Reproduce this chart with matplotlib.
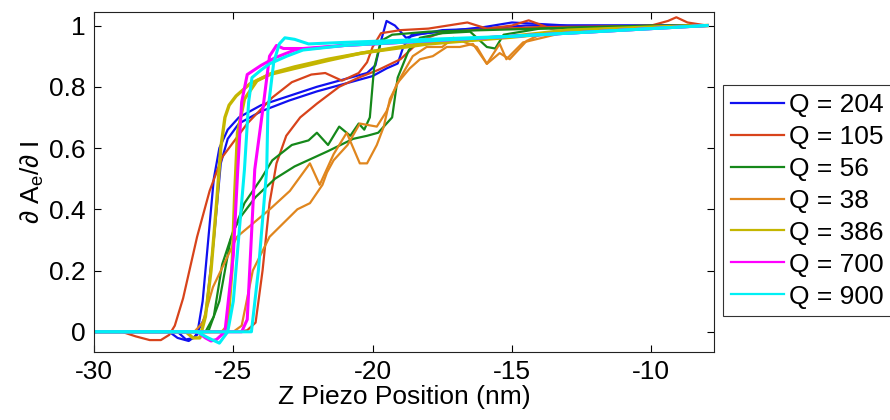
import numpy as np
import matplotlib
matplotlib.use('Agg')
import matplotlib.pyplot as plt

plt.rcParams['font.family'] = ['Liberation Sans', 'DejaVu Sans']
plt.rcParams['mathtext.fontset'] = 'custom'
plt.rcParams['mathtext.rm'] = 'Liberation Sans'

# legend labels
labels = ['Q = 204', 'Q = 105', 'Q = 56', 'Q = 38', 'Q = 386', 'Q = 700', 'Q = 900']
colors = ['#1010F0', '#D8431B', '#15881A', '#E0861E', '#C4B600', '#FF00FF', '#00F0F5']

# each Q has two branches (x, y)
blue_a_x = [-30, -27.3, -27.0, -26.6, -26.3, -26.1, -25.9, -25.7, -25.5, -25.2, -24.8, -24.0, -23.0, -22.0, -21.0, -20.2, -19.9, -19.7, -19.5, -19.2, -18.8, -18.4, -17.5, -16, -14.5, -13, -10, -8]
blue_a_y = [0, 0, -0.02, -0.03, -0.01, 0.1, 0.3, 0.5, 0.6, 0.66, 0.70, 0.74, 0.77, 0.80, 0.825, 0.845, 0.87, 0.95, 1.015, 1.0, 0.96, 0.97, 0.985, 0.99, 1.0, 1.0, 1.0, 1.0]
blue_b_x = [-30, -27.0, -26.7, -26.4, -26.0, -25.7, -25.45, -25.2, -24.8, -24.0, -23.0, -22.0, -21.0, -20.0, -19.5, -19.1, -18.9, -18.6, -17.5, -16, -15, -13, -10, -8]
blue_b_y = [0, 0, -0.025, -0.02, 0.05, 0.3, 0.55, 0.63, 0.68, 0.72, 0.755, 0.785, 0.81, 0.835, 0.86, 0.876, 0.93, 0.97, 0.98, 0.995, 1.01, 1.0, 1.0, 1.0]

red_a_x = [-30, -29.0, -28.5, -28.0, -27.6, -27.3, -27.1, -26.8, -26.3, -25.85, -25.4, -24.5, -23.6, -22.9, -22.2, -21.7, -21.1, -20.5, -20.2, -20.0, -19.7, -19.0, -18.0, -16.6, -15.9, -15.0, -14.4, -13.6, -12, -10, -9.4, -9.1, -8.7, -8]
red_a_y = [0, 0, -0.015, -0.027, -0.027, -0.01, 0.02, 0.11, 0.31, 0.46, 0.57, 0.68, 0.765, 0.815, 0.84, 0.845, 0.82, 0.845, 0.88, 0.93, 0.975, 0.985, 0.99, 1.01, 0.99, 1.0, 1.017, 0.99, 0.995, 1.0, 1.015, 1.027, 1.01, 1.0]
red_b_x = [-30, -24.8, -24.5, -24.2, -23.95, -23.7, -23.45, -23.1, -22.6, -22.0, -21.2, -20.5, -19.8, -19.0, -18.3, -17.6, -16.5, -14, -8]
red_b_y = [0, 0, 0.005, 0.03, 0.2, 0.42, 0.55, 0.64, 0.70, 0.745, 0.80, 0.83, 0.855, 0.89, 0.95, 0.975, 0.985, 0.995, 1.0]

green_a_x = [-30, -26.0, -25.7, -25.4, -25.0, -24.7, -24.2, -23.5, -22.8, -21.6, -20.7, -20.2, -19.8, -19.6, -19.3, -19.1, -18.7, -18.3, -17.5, -16.5, -15.9, -15.6, -15.3, -14, -10, -8]
green_a_y = [0, 0, 0.05, 0.22, 0.33, 0.38, 0.44, 0.50, 0.54, 0.59, 0.63, 0.64, 0.65, 0.67, 0.70, 0.83, 0.92, 0.96, 0.975, 0.98, 0.93, 0.925, 0.97, 0.99, 1.0, 1.0]
green_b_x = [-30, -25.9, -25.5, -25.1, -24.6, -24.0, -23.6, -22.9, -22.3, -22.0, -21.6, -21.2, -20.8, -20.5, -20.3, -20.1, -19.95, -19.7, -19.3, -18, -16, -12, -8]
green_b_y = [0, 0, 0.1, 0.3, 0.42, 0.50, 0.56, 0.61, 0.625, 0.65, 0.61, 0.67, 0.64, 0.68, 0.66, 0.70, 0.86, 0.95, 0.97, 0.98, 0.985, 0.995, 1.0]

orange_a_x = [-30, -25.0, -24.7, -24.3, -23.7, -22.7, -22.25, -21.8, -21.64, -21.4, -20.9, -20.46, -19.85, -19.5, -19.13, -18.67, -18.3, -17.84, -17.34, -16.87, -16.4, -15.9, -15.44, -15.08, -14.47, -14.0, -12, -10, -8]
orange_a_y = [0, 0, 0.02, 0.20, 0.31, 0.40, 0.42, 0.48, 0.52, 0.56, 0.61, 0.68, 0.67, 0.72, 0.81, 0.86, 0.89, 0.90, 0.93, 0.93, 0.94, 0.875, 0.91, 0.89, 0.95, 0.97, 0.985, 0.99, 1.0]
orange_b_x = [-30, -26.4, -26.1, -25.73, -24.87, -23.69, -22.97, -22.25, -21.9, -21.4, -20.93, -20.46, -20.2, -19.85, -19.6, -19.38, -19.0, -18.56, -18.06, -17.5, -17.1, -16.26, -15.9, -15.44, -15.2, -14.6, -13, -10, -8]
orange_b_y = [0, 0, 0.03, 0.146, 0.31, 0.40, 0.46, 0.55, 0.48, 0.58, 0.65, 0.55, 0.55, 0.61, 0.67, 0.76, 0.83, 0.90, 0.93, 0.93, 0.96, 0.93, 0.875, 0.94, 0.89, 0.945, 0.98, 0.99, 1.0]

olive_a_x = [-30, -26.7, -26.45, -26.2, -26.0, -25.8, -25.6, -25.45, -25.3, -25.15, -24.9, -24.4, -23.7, -22.8, -21.6, -20.4, -18, -15, -13, -10, -8]
olive_a_y = [0, 0, -0.02, -0.02, 0.05, 0.2, 0.42, 0.6, 0.70, 0.74, 0.77, 0.81, 0.84, 0.86, 0.886, 0.91, 0.945, 0.965, 0.985, 0.995, 1.0]
olive_b_x = [-30, -25.4, -25.2, -25.05, -24.95, -24.85, -24.6, -24.15, -23.6, -22.8, -21.6, -20.4, -18, -15, -13, -10, -8]
olive_b_y = [0, 0, 0.02, 0.2, 0.45, 0.65, 0.76, 0.82, 0.845, 0.865, 0.89, 0.91, 0.94, 0.962, 0.98, 0.993, 1.0]

magenta_a_x = [-30, -26.3, -26.0, -25.8, -25.6, -25.3, -25.0, -24.84, -24.7, -24.5, -24.0, -23.5, -22.8, -21, -18, -15, -12, -10, -8]
magenta_a_y = [0, 0, -0.02, -0.03, -0.025, 0.0, 0.25, 0.53, 0.75, 0.84, 0.87, 0.895, 0.92, 0.935, 0.95, 0.965, 0.98, 0.99, 1.0]
magenta_b_x = [-30, -24.7, -24.5, -24.23, -23.95, -23.7, -23.45, -23.2, -22.5, -21, -18, -15, -12, -10, -8]
magenta_b_y = [0, 0, 0.04, 0.53, 0.72, 0.90, 0.935, 0.925, 0.925, 0.935, 0.95, 0.965, 0.98, 0.99, 1.0]

cyan_a_x = [-30, -24.35, -24.1, -23.8, -23.76, -23.55, -23.35, -23.15, -22.8, -22.3, -21, -18, -15, -12, -10, -8]
cyan_a_y = [0, 0, 0.2, 0.53, 0.72, 0.88, 0.94, 0.96, 0.955, 0.94, 0.945, 0.955, 0.965, 0.98, 0.99, 1.0]
cyan_b_x = [-30, -26.3, -25.9, -25.5, -25.2, -25.0, -24.6, -24.45, -24.33, -24.0, -23.7, -23.08, -22.5, -21, -18, -15, -12, -10, -8]
cyan_b_y = [0, 0, -0.02, -0.037, 0.0, 0.1, 0.53, 0.75, 0.83, 0.855, 0.875, 0.9, 0.92, 0.935, 0.95, 0.965, 0.98, 0.99, 1.0]

branches = [
    (blue_a_x, blue_a_y, blue_b_x, blue_b_y),
    (red_a_x, red_a_y, red_b_x, red_b_y),
    (green_a_x, green_a_y, green_b_x, green_b_y),
    (orange_a_x, orange_a_y, orange_b_x, orange_b_y),
    (olive_a_x, olive_a_y, olive_b_x, olive_b_y),
    (magenta_a_x, magenta_a_y, magenta_b_x, magenta_b_y),
    (cyan_a_x, cyan_a_y, cyan_b_x, cyan_b_y),
]
widths = [1.6, 1.6, 1.6, 1.6, 2.4, 2.2, 2.2]

fig = plt.figure(figsize=(8.9, 4.2), dpi=100)
ax = fig.add_axes([0.1056, 0.1626, 0.6966, 0.8094])

for (xa, ya, xb, yb), c, lw, lab in zip(branches, colors, widths, labels):
    ax.plot(xa, ya, color=c, lw=lw, label=lab)
    ax.plot(xb, yb, color=c, lw=lw)

ax.set_xlim(-30, -7.75)
ax.set_ylim(-0.065, 1.045)
ax.set_xticks([-30, -25, -20, -15, -10])
ax.set_xticklabels(['-30', '-25', '-20', '-15', '-10'])
ax.set_yticks([0, 0.2, 0.4, 0.6, 0.8, 1])
ax.set_yticklabels(['0', '0.2', '0.4', '0.6', '0.8', '1'])
ax.tick_params(direction='in', length=5, width=0.8, top=True, right=True, labelsize=19, pad=6)
for s in ax.spines.values():
    s.set_linewidth(0.8)
    s.set_color('#222222')

ax.set_xlabel('Z Piezo Position (nm)', fontsize=19, labelpad=1)
ax.set_ylabel(r'$\partial$ A$_\mathregular{e}$/$\partial$ I', fontsize=19, labelpad=2)

leg = ax.legend(handles=[plt.Line2D([], [], color=c, lw=1.6) for c in colors], labels=labels,
                loc='center left', bbox_to_anchor=(0.8125, 0.522), bbox_transform=fig.transFigure,
                fontsize=19, frameon=True, fancybox=False, shadow=False, borderpad=0.3,
                labelspacing=0.3, handlelength=2.0, handletextpad=0.2, borderaxespad=0)
leg.get_frame().set_edgecolor('black')
leg.get_frame().set_linewidth(0.8)

fig.savefig('out.png', dpi=100)
